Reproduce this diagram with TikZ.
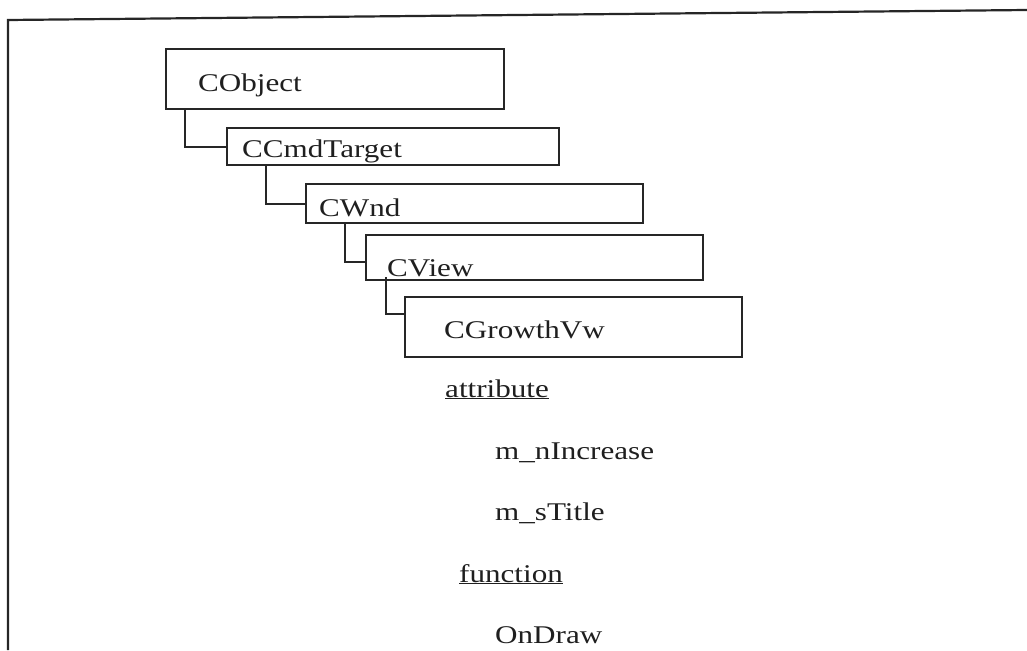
\documentclass[tikz,border=0pt]{standalone}
\usepackage{fontspec}
\setmainfont[FakeStretch=1.22]{Liberation Serif}
\begin{document}
\begin{tikzpicture}[x=1pt,y=-1pt,
  cls/.style={draw=black!85, line width=2.3pt, rectangle, inner sep=0pt, anchor=north west},
  lbl/.style={inner sep=0pt, anchor=base west, font=\fontsize{25.5}{30}\selectfont, text=black!88},
  conn/.style={draw=black!85, line width=2.3pt}]
\useasboundingbox (0,0) rectangle (1027,650);
% frame
\coordinate (fa) at (8,20);
\coordinate (fb) at (1027,10);
\coordinate (fc) at (8,650);
\draw[line width=2.2pt, black!85] (fc) -- (fa) -- (fb);
% class boxes
\node[cls, minimum width=338pt, minimum height=60pt] (obj) at (165,48) {};
\node[cls, minimum width=332pt, minimum height=37pt] (cmd) at (226,127) {};
\node[cls, minimum width=337pt, minimum height=39pt] (wnd) at (305,183) {};
\node[cls, minimum width=337pt, minimum height=45pt] (view) at (365,234) {};
\node[cls, minimum width=337pt, minimum height=60pt] (grow) at (404,296) {};
% labels
\node[lbl] (tobj) at (198,92) {CObject};
\node[lbl] (tcmd) at (242,157) {CCmdTarget};
\node[lbl] (twnd) at (319,216) {CWnd};
\node[lbl] (tview) at (387,276) {CView};
\node[lbl] (tgrow) at (444,338) {CGrowthVw};
% connectors
\coordinate (c4) at (404,314);
\draw[conn] ([xshift=20pt]obj.south west) |- (cmd.west);
\draw[conn] ([xshift=40pt]cmd.south west) |- (wnd.west);
\draw[conn] ([xshift=40pt]wnd.south west) |- ([yshift=-4pt]view.west);
\draw[conn] ([xshift=21pt,yshift=4pt]view.south west) |- (c4);
% members
\node[lbl] (attr) at (445,397) {\underline{attribute}};
\node[lbl] (m1) at (495,459) {m\_nIncrease};
\node[lbl] (m2) at (495,520) {m\_sTitle};
\node[lbl] (func) at (459,582) {\underline{function}};
\node[lbl] (f1) at (495,643) {OnDraw};
\end{tikzpicture}
\end{document}
